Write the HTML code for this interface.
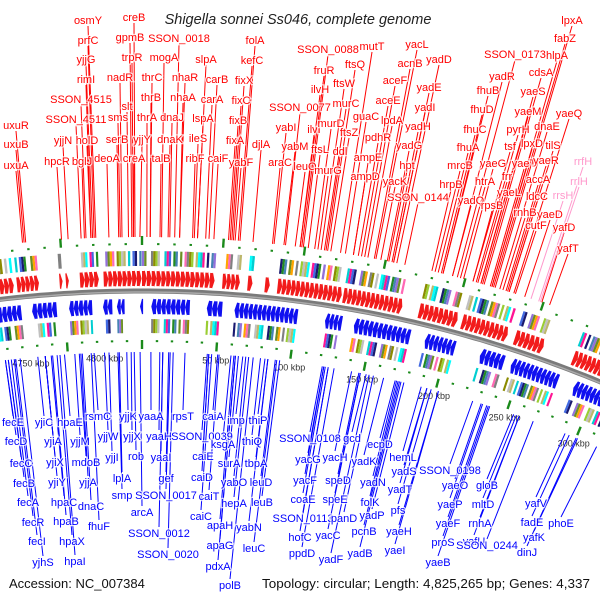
<!DOCTYPE html>
<html><head><meta charset="utf-8"><style>
html,body{margin:0;padding:0;background:#fff;width:600px;height:600px;overflow:hidden;}
svg{display:block;font-family:"Liberation Sans",sans-serif;overflow:hidden;}
</style></head><body>
<svg id="map" width="600" height="600" viewBox="0 0 600 600">
<rect width="600" height="600" fill="#fff"/>
<g id="rings"></g>
<g id="lines"></g>
<g id="labels"></g>
<text x="298" y="24" text-anchor="middle" font-size="14.5" font-style="italic" fill="#222">Shigella sonnei Ss046, complete genome</text>
<text x="9" y="588" font-size="13" fill="#111">Accession: NC_007384</text>
<text x="590" y="588" text-anchor="end" font-size="13" fill="#111" textLength="328" lengthAdjust="spacingAndGlyphs">Topology: circular; Length: 4,825,265 bp; Genes: 4,337</text>
</svg>
<script>
// ---- data ----
const genomeKbp = 4825.265;
const fwdNames = ["uxuR","uxuB","uxuA","osmY","prfC","yjjG","rimI","SSON_4515","SSON_4511","yjjN","hpcR","holD","bglJ","creB","gpmB","trpR","nadR","slt","sms","serB","deoA","creA","SSON_0018","mogA","thrC","thrB","thrA","yjjY","talB","dnaJ","dnaK","nhaR","nhaA","slpA","carB","carA","lspA","ileS","ribF","caiF","folA","kefC","fixX","fixC","fixB","fixA","djlA","yabF","yabI","araC","SSON_0077","SSON_0088","fruR","ilvH","ilvI","yabM","ftsL","leuO","ftsQ","ftsW","murC","murD","ftsZ","ddl","murG","mutT","guaC","pdhR","ampE","ampD","yacL","acnB","aceF","aceE","lpdA","yadH","yadG","hpt","yacK","SSON_0144","yadD","yadE","yadI","SSON_0173","yadR","fhuB","fhuD","fhuC","fhuA","mrcB","hrpB","yadQ","htrA","yaeG","tsf","pyrH","lpxD","yaeT","frr","yaeL","rpsB","rnhB","yaeM","yaeS","cdsA","hlpA","fabZ","lpxA","yaeQ","dnaE","tilS","yaeR","accA","ldcC","yaeD","cutF","yafD","yafT"];
const fwdKbp = [4754,4753,4752,4797,4796,4795,4794,4791,4788,4780,4776,4794,4790,4821,4819,4820,4813,4817,4812,4811,4805,4820,20,12,5,5,3,4824,11,17,16,23,23,34,41,39,34,32,31,44,60,59,56,55,54,53,68,57,81,80,88,99,98,97,97,87,102,94,114,110,112,106,116,113,108,122,125,133,130,130,144,143,137,135,139,154,151,152,147,162,157,155,155,195,192,186,186,185,183,181,179,192,197,199,205,207,217,216,208,212,205,224,210,210,211,217,218,219,231,222,228,227,226,228,238,232,249,254];
const fwdLabelX = [16,16,16,88,88,86,86,81,76,63,57,87,82,134,130,132,120,127,118,117,107,134,179,164,152,151,147,142,161,172,170,185,183,206,217,212,203,198,195,218,255,252,244,241,238,235,261,241,286,280,300,328,324,320,314,295,320,305,355,344,346,331,349,340,328,372,366,378,368,365,417,410,395,388,392,418,409,407,395,418,439,429,425,515,502,488,482,475,468,460,451,471,485,493,510,518,532,524,507,509,492,525,528,533,541,557,565,572,569,547,553,546,538,537,550,536,564,568];
const fwdLabelY = [129,148,169,24,44,63,83,103,123,144,165,144,165,21,41,61,81,110,121,143,162,162,42,61,81,101,121,143,162,121,143,81,101,63,83,103,122,142,162,162,44,64,84,104,124,144,148,166,131,166,111,53,74,93,133,150,153,170,68,87,107,127,136,155,174,50,120,141,161,180,48,67,84,104,124,130,149,169,185,201,63,91,111,58,80,94,113,133,151,169,188,204,185,167,150,133,147,167,180,196,209,216,115,95,76,59,42,24,117,130,149,164,183,200,218,229,231,252];
const rnaNames = ["rrfH","rrlH","rrsH"];
const rnaKbp = [247,248,242];
const rnaLabelX = [583,579,563];
const rnaLabelY = [165,185,199];
const revNames = ["fecE","fecD","fecC","fecB","fecA","fecR","fecI","yjhS","yjiC","yjiA","yjiX","yjiY","hpaC","hpaB","hpaX","hpaI","hpaE","yjjM","mdoB","yjjA","dnaC","fhuF","rsmC","yjjW","yjjI","yjjK","yjjX","rob","lplA","smp","yaaA","yaaH","yaaI","gef","SSON_0017","arcA","SSON_0012","SSON_0020","rpsT","SSON_0039","caiA","caiE","caiD","caiT","caiC","ksgA","surA","yabO","hepA","apaH","apaG","pdxA","polB","imp","thiP","thiQ","tbpA","leuD","leuB","yabN","leuC","SSON_0108","gcd","yacG","yacH","ecpD","yadK","hemL","yadS","yacF","speD","yadN","yadT","coaE","speE","folK","pfs","SSON_0113","panD","yadP","hofC","yacC","pcnB","yaeH","ppdD","yadF","yadB","yaeI","SSON_0198","yaeO","gloB","yaeP","mltD","yaeF","rnhA","proS","yafU","SSON_0244","yaeB","yafV","fadE","yafK","dinJ","phoE"];
const revKbp = [4733,4733,4735,4735,4737,4739,4740,4743,4755,4760,4760,4760,4764,4765,4768,4770,4773,4780,4783,4784,4785,4791,4793,4800,4803,4815,4818,4820,4810,4809,6,12,14,18,19,4824,14,21,29,44,51,45,45,52,47,60,65,70,72,62,63,63,75,68,83,80,85,90,93,85,91,122,152,123,142,172,164,190,194,123,147,173,194,124,148,174,197,126,157,178,126,148,175,202,130,154,176,202,226,232,255,233,257,236,259,237,259,269,238,292,295,301,300,315];
const revLabelX = [13,16,21,24,28,33,37,43,44,53,55,57,64,66,72,75,70,80,86,88,91,99,98,108,112,128,132,136,122,122,151,159,161,166,166,142,159,168,183,202,213,203,202,209,201,223,229,234,234,220,220,218,230,236,258,252,256,261,262,249,254,310,352,308,335,380,364,403,404,305,338,373,400,303,335,370,398,303,344,372,300,328,364,399,302,331,360,395,450,455,487,450,483,448,480,443,474,487,438,536,532,534,527,561];
const revLabelY = [426,445,467,487,506,526,545,566,426,445,466,486,506,525,545,565,426,445,466,486,510,530,420,440,461,420,440,460,482,499,420,440,461,482,499,516,537,558,420,440,420,460,481,500,520,448,467,486,507,529,549,570,589,424,424,445,467,486,506,531,552,442,442,463,461,448,465,461,475,484,484,486,493,503,503,506,514,522,522,519,541,539,535,535,557,563,557,554,474,489,489,508,508,527,527,546,545,549,566,507,526,541,556,527];
const fwdRanges = [[4735,4744],[4746,4760],[4773,4775],[4777,4779],[4786,4798],[4801,4825],[0,46],[51,62],[67,70],[78,81],[86,127],[128,166],[177,202],[205,235],[240,259],[279,330]];
const revRanges = [[4728,4747],[4754,4770],[4778,4793],[4800,4806],[4809,4814],[4824,4826],[6,31],[42,52],[60,101],[119,130],[138,175],[185,205],[222,238],[243,275],[286,330]];
const tickValues = [4750,4800,50,100,150,200,250,300];
const tickLabels = ["4750 kbp","4800 kbp","50 kbp","100 kbp","150 kbp","200 kbp","250 kbp","300 kbp"];

// ---- geometry ----
const CX = 142, CY = 1492;
const NS = "http://www.w3.org/2000/svg";
function ang(kbp){ return kbp / genomeKbp * 2 * Math.PI; }
function px(kbp, r){ return CX + r * Math.sin(ang(kbp)); }
function py(kbp, r){ return CY - r * Math.cos(ang(kbp)); }
function mk(tag, parent){ const e = document.createElementNS(NS, tag); parent.appendChild(e); return e; }
function P(k, r){ return px(k, r).toFixed(1) + ',' + py(k, r).toFixed(1); }
const rings = document.getElementById('rings');
const linesG = document.getElementById('lines');
const labelsG = document.getElementById('labels');
const palette = ['#ff69b4','#00ced1','#6b8e23','#bdb76b','#4682b4','#9acd32','#191970','#808080','#ff1493','#ffa500','#00ffff','#9370db','#c0c0c0','#228b22','#8b8b00','#4169e1'];

// backbone as arcs limited to the visible range
function arcPath(r){
  const pts = [];
  for (let k = -120; k <= 345; k += 5) pts.push(P(k, r));
  return 'M' + pts.join(' L');
}
const bb = mk('path', rings);


bb.setAttribute('d', arcPath(1201));
bb.setAttribute('fill', 'none'); bb.setAttribute('stroke', '#7a7a7a'); bb.setAttribute('stroke-width', 5);
const bb2 = mk('path', rings);


bb2.setAttribute('d', arcPath(1200));
bb2.setAttribute('fill', 'none'); bb2.setAttribute('stroke', '#aaa'); bb2.setAttribute('stroke-width', 1.5);

function drawArrows(ranges, r1, r2, dir, color, name){
  ranges.forEach(rg => {
    const s = rg[0], e = rg[1];
    const n = Math.max(1, Math.round((e - s) / 3));
    const w = (e - s) / n, m = (r1 + r2) / 2;
    const top = [], bot = [];
    for (let i = 0; i < n; i++){
      const a = s + i * w, b = a + w;
      if (dir > 0){ top.push([a, r2-1],[b-1.4, r2-1],[b-1.4, r2],[b, m]); bot.push([a, r1+1],[b-1.4, r1+1],[b-1.4, r1],[b, m]); }
      else { top.push([a, m],[a+1.4, r2],[a+1.4, r2-1],[b, r2-1]); bot.push([a, m],[a+1.4, r1],[a+1.4, r1+1],[b, r1+1]); }
    }
    const pts = top.concat(bot.reverse());
    const p = mk('polygon', rings);
    
    
    p.setAttribute('points', pts.map(q => P(q[0], q[1])).join(' '));
    p.setAttribute('fill', color);
  });
}
function drawCog(ranges, r1, r2, name, seed){
  let c = seed;
  ranges.forEach(rg => {
    const s = rg[0], e = rg[1];
    const n = Math.max(1, Math.round((e - s) / 1.4));
    const w = (e - s) / n;
    for (let i = 0; i < n; i++){
      c++;
      if (c % 5 === 3 || c % 7 === 5) continue;
      const a = s + i * w, b = a + w;
      const pts = [[a,r1],[b,r1],[b,r2],[a,r2]];
      const p = mk('polygon', rings);
      
      
      p.setAttribute('points', pts.map(q => P(q[0], q[1])).join(' '));
      p.setAttribute('fill', palette[(c * 7) % palette.length]);
    }
  });
}
drawArrows(fwdRanges, 1205, 1222, 1, '#f21b1b', 'forward-gene');
drawArrows(revRanges, 1177, 1194, -1, '#1010f0', 'reverse-gene');
drawCog(fwdRanges, 1226, 1241, 'forward-cog-box', 0);
drawCog(revRanges, 1159, 1173, 'reverse-cog-box', 3);

// green tick dots
for (let k = -110; k <= 340; k += 10){
  const kk = k;
  const big = (kk % 50 === 0);
  [[1247, big ? 1256 : 1249],[1152, big ? 1143 : 1150]].forEach(rr => {
    const l = mk('line', rings);
    
    
    l.setAttribute('x1', px(kk, rr[0])); l.setAttribute('y1', py(kk, rr[0]));
    l.setAttribute('x2', px(kk, rr[1])); l.setAttribute('y2', py(kk, rr[1]));
    l.setAttribute('stroke', '#1a8a1a'); l.setAttribute('stroke-width', 2.4);
  });
}
// tick labels
tickValues.forEach((v, i) => {
  const t = mk('text', rings);
  
  
  t.setAttribute('x', px(v, 1134)); t.setAttribute('y', py(v, 1134) + 3);
  t.setAttribute('text-anchor', 'middle'); t.setAttribute('font-size', '9');
  t.setAttribute('fill', '#333');
  t.textContent = tickLabels[i];
});

function drawLabels(names, kbps, lx, ly, rStart, color, lineColor, up, name){
  names.forEach((nm, i) => {
    const l = mk('line', linesG);
    
    
    l.setAttribute('x1', px(kbps[i], rStart).toFixed(1));
    l.setAttribute('y1', py(kbps[i], rStart).toFixed(1));
    l.setAttribute('x2', lx[i]);
    l.setAttribute('y2', up ? ly[i] + 2 : ly[i] - 10);
    l.setAttribute('stroke', lineColor); l.setAttribute('stroke-width', 1);
    const t = mk('text', labelsG);
    
    
    t.setAttribute('x', lx[i]); t.setAttribute('y', ly[i]);
    t.setAttribute('text-anchor', 'middle'); t.setAttribute('font-size', '11');
    t.setAttribute('fill', color);
    t.setAttribute('stroke', 'rgba(255,255,255,0.75)'); t.setAttribute('stroke-width', '2.5');
    t.setAttribute('paint-order', 'stroke');
    t.textContent = nm;
  });
}
drawLabels(fwdNames, fwdKbp, fwdLabelX, fwdLabelY, 1255, '#f00', '#f00', true, 'forward-gene-label');
drawLabels(rnaNames, rnaKbp, rnaLabelX, rnaLabelY, 1255, '#f9c', '#f9c', true, 'rna-gene-label');
drawLabels(revNames, revKbp, revLabelX, revLabelY, 1140, '#00f', '#00f', false, 'reverse-gene-label');
</script>
</body></html>
